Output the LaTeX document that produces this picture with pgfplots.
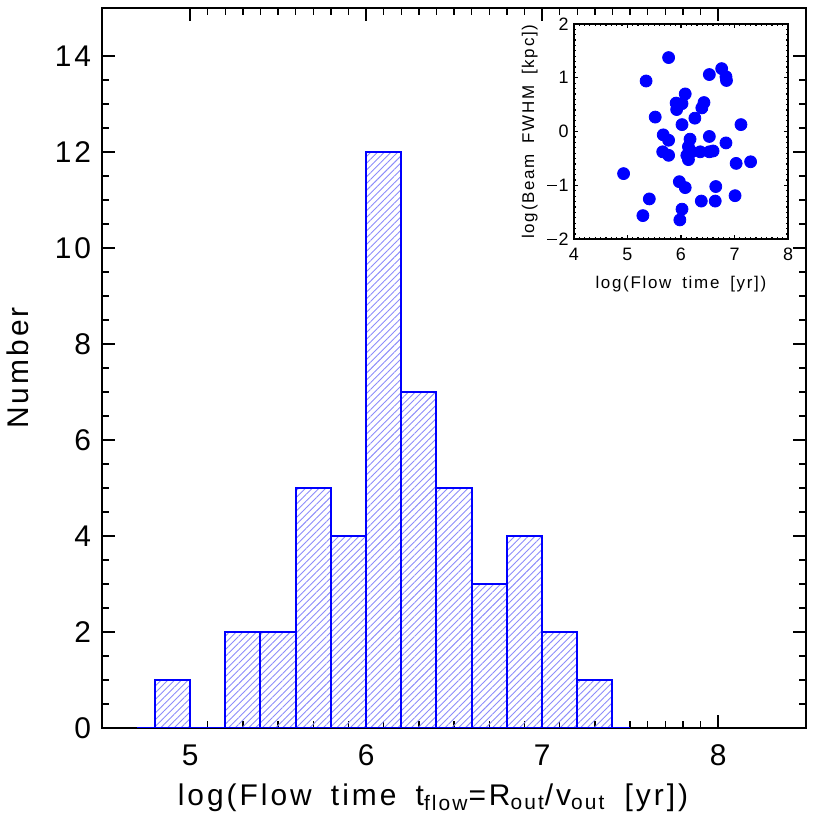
\documentclass[border=0pt]{standalone}
\usepackage{fontspec}
\setmainfont{Liberation Sans}
\newfontfamily\idl[LetterSpace=10, WordSpace=1.7]{Liberation Sans}
\usepackage{pgfplots}
\pgfplotsset{compat=1.18}
\usetikzlibrary{patterns.meta,calc}
\definecolor{hatchblue}{RGB}{140,140,250}
\newcommand{\mn}{\rule[2.6pt]{5pt}{0.6pt}\hspace{0.8pt}}

\begin{document}
\begin{tikzpicture}
% main histogram
\begin{axis}[
  name=main,
  scale only axis, width=353pt, height=361pt,
  xmin=4.5, xmax=8.5, ymin=0, ymax=15,
  xtick={5,6,7,8}, ytick={0,2,...,14},
  minor x tick num=9, minor y tick num=3,
  tick align=inside,
  major tick length=6.5pt, minor tick length=3.5pt,
  axis line style={line width=1pt},
  every tick/.style={black, line width=0.7pt},
  tick label style={font=\idl\fontsize{15}{17}\selectfont},
  /pgf/number format/assume math mode=true,
  xticklabel style={yshift=-5pt},
  yticklabel style={xshift=-2pt},
  label style={font=\idl\fontsize{15}{17}\selectfont},
  xlabel={log(Flow time  t\textsubscript{flow}=R\textsubscript{out}/v\textsubscript{out}  [yr])},
  ylabel={Number},
  xlabel style={at={(axis description cs:0.47,-0.097)}, anchor=center},
  ylabel style={at={(axis description cs:-0.12,0.5)}, anchor=center},
]
\addplot[ybar interval, draw=blue, line width=1pt,
  pattern={Lines[angle=45, distance=2.4pt, line width=0.45pt]}, pattern color=hatchblue]
  coordinates {
  (4.8,1) (5.0,0) (5.2,2) (5.4,2) (5.6,5) (5.8,4) (6.0,12)
  (6.2,7) (6.4,5) (6.6,3) (6.8,4) (7.0,2) (7.2,1) (7.4,1)
};
\addplot[blue, line width=1pt] coordinates {(4.7,0) (4.8,0)};
\addplot[blue, line width=1pt] coordinates {(7.4,0) (7.5,0)};
\end{axis}

% inset scatter
\begin{axis}[
  at={($(main.south west)+(236.5pt,245pt)$)}, anchor=south west,
  scale only axis, width=107.5pt, height=108pt,
  xmin=4, xmax=8, ymin=-2, ymax=2,
  xtick={4,5,6,7,8}, ytick={-2,-1,0,1,2},
  yticklabels={{\mn2},{\mn1},0,1,2},
  minor tick num=9,
  tick align=inside,
  major tick length=2pt, minor tick length=1pt,
  axis line style={line width=1pt},
  every tick/.style={black, line width=0.6pt},
  tick label style={font=\fontsize{9}{10}\selectfont},
  /pgf/number format/assume math mode=true,
  xticklabel style={yshift=-1pt},
  yticklabel style={anchor=east, xshift=1pt},
  label style={font=\idl\fontsize{8.5}{10}\selectfont},
  xlabel={log(Flow time [yr])},
  ylabel={log(Beam FWHM [kpc])},
  xlabel style={at={(axis description cs:0.5,-0.21)}, anchor=center},
  ylabel style={at={(axis description cs:-0.205,0.5)}, anchor=center},
]
\addplot[only marks, mark=*, mark size=3pt, blue] coordinates {
  (5.77,1.375) (5.35,0.94) (6.53,1.06) (6.76,1.17) (6.84,1.02) (6.85,0.95)
  (6.08,0.70) (5.91,0.53) (6.02,0.52) (5.92,0.41) (6.43,0.54) (6.39,0.44)
  (5.52,0.27) (6.26,0.25) (6.02,0.13) (7.12,0.13) (5.67,-0.06) (5.77,-0.16)
  (6.53,-0.09) (6.17,-0.14) (6.84,-0.21) (5.66,-0.375) (5.77,-0.44)
  (6.14,-0.28) (6.11,-0.44) (6.14,-0.52) (6.36,-0.375) (6.53,-0.375)
  (6.60,-0.36) (6.20,-0.375) (7.03,-0.59) (7.30,-0.56) (4.93,-0.78)
  (5.97,-0.93) (6.08,-1.04) (6.65,-1.02) (7.01,-1.19) (5.41,-1.25)
  (6.38,-1.29) (6.64,-1.29) (6.02,-1.44) (5.29,-1.56) (5.98,-1.64)
};
\end{axis}
\useasboundingbox ($(main.south west)+(-50pt,-50pt)$) rectangle ($(main.north east)+(12pt,4pt)$);
\end{tikzpicture}
\end{document}
